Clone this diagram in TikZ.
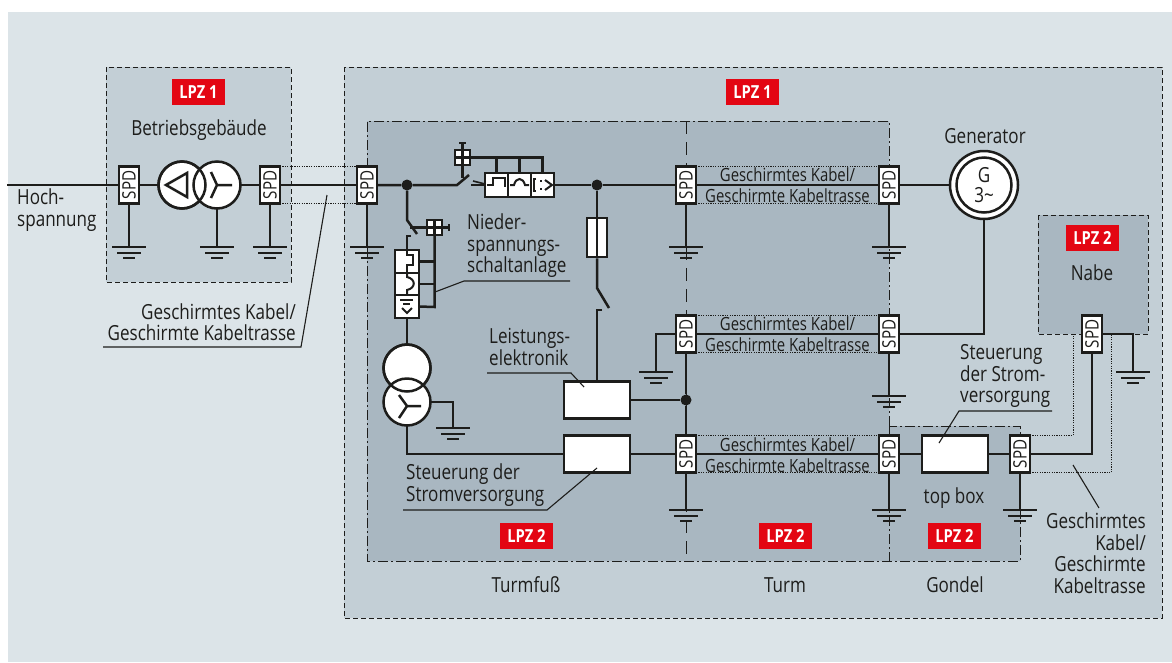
\documentclass[tikz,border=0pt]{standalone}
\usepackage{fontspec}
\setmainfont[FakeStretch=0.82]{Open Sans}
\usepackage{tikz}
\usetikzlibrary{calc, positioning}
\definecolor{panel}{HTML}{DCE4E8}
\definecolor{zoneone}{HTML}{C3CFD6}
\definecolor{zonetwo}{HTML}{A9B7C1}
\definecolor{ink}{HTML}{1D1D1B}
\definecolor{lpzred}{HTML}{E30613}
\tikzset{
  wire/.style={draw=ink, line width=2.5pt},
  thinwire/.style={draw=ink, line width=1.1pt},
  shield/.style={draw=ink, line width=1pt, dash pattern=on 1.2pt off 1.2pt},
  zoneedge/.style={draw=ink, line width=0.9pt, dash pattern=on 5pt off 3pt},
  dashdotedge/.style={draw=ink, line width=0.9pt, dash pattern=on 10pt off 3pt on 2pt off 3pt},
  spdbox/.style={draw=ink, fill=white, line width=2.5pt, rotate=90, inner sep=0pt, outer sep=0pt,
    minimum width=37pt, minimum height=20pt, font=\fontsize{18.5}{18.5}\selectfont, text=ink},
  lpzbox/.style={fill=lpzred, text=white, inner sep=0pt, minimum width=53pt, minimum height=26pt,
    font=\fontsize{18}{18}\selectfont\bfseries},
  whitebox/.style={draw=ink, fill=white, line width=2.5pt, inner sep=0pt, outer sep=0pt,
    minimum width=66pt, minimum height=37pt},
  relaybox/.style={draw=ink, fill=white, line width=2.5pt, inner sep=0pt, outer sep=0pt,
    minimum width=23pt, minimum height=24pt},
  ctrlbox/.style={draw=ink, fill=white, line width=2.5pt, inner sep=0pt, outer sep=0pt, minimum size=15pt},
  coil/.style={circle, draw=ink, fill=white, line width=2.5pt, inner sep=0pt, outer sep=0pt, minimum size=47pt},
  junction/.style={circle, fill=ink, inner sep=0pt, minimum size=11pt},
  txt/.style={text=ink, inner sep=0pt, font=\fontsize{20.8}{21.5}\selectfont},
  cabletxt/.style={text=ink, inner sep=0pt, font=\fontsize{18.2}{21}\selectfont},
  gnd/.pic={
    \draw[wire] (-17,0) -- (17,0);
    \draw[wire] (-12,6) -- (12,6);
    \draw[wire] (-6,11) -- (6,11);
  }
}
\begin{document}
\begin{tikzpicture}[x=1pt, y=-1pt]
  \useasboundingbox (0,0) rectangle (1172,662);
  % Zones
  \fill[panel] (8,12) rectangle (1172,662);
  \draw[zoneedge, fill=zoneone] (106,67) rectangle (291,282);
  \draw[zoneedge, fill=zoneone] (344,67) rectangle (1162,618);
  \fill[zonetwo] (367,121) -- (889,121) -- (889,426) -- (1020,426) -- (1020,561) -- (367,561) -- cycle;
  \draw[dashdotedge] (889,426) -- (889,121) -- (367,121) -- (367,561) -- (1020,561) -- (1020,426) -- cycle;
  \draw[dashdotedge] (889,426) -- (889,561);
  \draw[draw=ink, line width=0.9pt, dash pattern=on 13pt off 8pt] (686,121) -- (686,561);
  \draw[zoneedge, fill=zonetwo] (1038,215) rectangle (1148,334);
  % LPZ tags
  \node[lpzbox] (lpza) at (198.5,92) {LPZ 1};
  \node[lpzbox] (lpzb) at (752.5,92) {LPZ 1};
  \node[lpzbox] (lpzc) at (526.5,536) {LPZ 2};
  \node[lpzbox] (lpzd) at (785.5,536) {LPZ 2};
  \node[lpzbox] (lpze) at (954.5,536) {LPZ 2};
  \node[lpzbox] (lpzf) at (1092.5,237.5) {LPZ 2};
  % Surge protection
  \node[spdbox] (spda) at (129,185) {SPD};
  \node[spdbox] (spdb) at (270,185) {SPD};
  \node[spdbox] (spdc) at (367,185) {SPD};
  \node[spdbox] (spdd) at (686,185) {SPD};
  \node[spdbox] (spde) at (889,185) {SPD};
  \node[spdbox] (spdf) at (686,334) {SPD};
  \node[spdbox] (spdg) at (889,334) {SPD};
  \node[spdbox] (spdh) at (686,454) {SPD};
  \node[spdbox] (spdi) at (889,454) {SPD};
  \node[spdbox] (spdj) at (1020,454) {SPD};
  \node[spdbox] (spdk) at (1092,334) {SPD};
  % Transformers
  \node[coil] (traa) at (182,185) {};
  \node[coil] (trab) at (217,185) {};
  \draw[wire] (traa.center) circle[radius=23.5pt];
  \node[coil] (trac) at (407,368) {};
  \node[coil] (trad) at (407,402) {};
  \draw[wire] (trac.center) circle[radius=23.5pt];
  \draw[wire, line join=miter] (187,173) -- (166,185) -- (187,197) -- cycle;
  \draw[wire] (232,185) -- (217,185) (211,172) -- (217,185) -- (211,198);
  \draw[wire] (421,406) -- (407,406) (399,395) -- (407,406) -- (399,418);
  % Generator
  \node[coil, minimum size=68pt] (gen) at (984,185) {};
  \node[coil, minimum size=55pt, txt, align=center] (geninner) at (984,185) {G\\[-1pt]3\textasciitilde};
  % Boxes
  \node[whitebox] (power) at (597,400) {};
  \node[whitebox] (ctrla) at (597,454) {};
  \node[whitebox] (ctrlb) at (955,454) {};
  \node[relaybox] (rowa) at (496.5,185) {};
  \node[relaybox] (rowb) at (519.5,185) {};
  \node[relaybox] (rowc) at (542.5,185) {};
  \node[relaybox, minimum width=24pt, minimum height=23pt] (cola) at (407,261.5) {};
  \node[relaybox, minimum width=24pt, minimum height=22pt] (colb) at (407,284) {};
  \node[relaybox, minimum width=24pt, minimum height=23pt] (colc) at (407,306.5) {};
  \node[draw=ink, fill=white, line width=2.5pt, inner sep=0pt, minimum width=20pt, minimum height=39pt] (fuse) at (597,237.5) {};
  \node[ctrlbox] (trip) at (462.5,157.5) {};
  \node[ctrlbox] (tripb) at (434.5,227.5) {};
  \draw[wire] (trip.north) -- (trip.south) (trip.west) -- (trip.east);
  \draw[wire] (tripb.north) -- (tripb.south) (tripb.west) -- (tripb.east);
  \draw[wire] (fuse.north) -- (fuse.south);
  % Relay glyphs
  \draw[wire, line width=2pt] (487,185) -- (493,185) -- (493,178) -- (505,178) -- (505,187);
  \draw[wire, line width=2pt] (510,185) -- (514,185) .. controls (516,177) and (523,177) .. (525,185) -- (529,185);
  \draw[wire, line width=2pt] (536,179) -- (534,179) -- (534,191) -- (536,191);
  \draw[wire, line width=2pt] (541,180) -- (541,182) (541,188) -- (541,190);
  \draw[wire, line width=2pt] (545,180) -- (552,185) -- (545,190);
  \draw[wire, line width=2pt] (407,251) -- (407,255) -- (413,255) -- (413,265) -- (407,265) -- (407,272);
  \draw[wire, line width=2pt] (407,274) -- (407,277) .. controls (416,279) and (416,288) .. (407,290) -- (407,294);
  \draw[wire, line width=2pt] (400,299.5) -- (413,299.5) (403,303.5) -- (410,303.5);
  \draw[wire, line width=2pt] (402,308) -- (407,313) -- (412,308);
  % Junctions
  \node[junction] (joina) at (407,185) {};
  \node[junction] (joinb) at (597,185) {};
  \node[junction] (joinc) at (686,400) {};
  % Earth points
  \coordinate (gnda) at (129,247);
  \coordinate (gndb) at (217,247);
  \coordinate (gndc) at (270,247);
  \coordinate (gndd) at (367,247);
  \coordinate (gnde) at (686,247);
  \coordinate (gndf) at (889,247);
  \coordinate (gndg) at (656,372);
  \coordinate (gndh) at (889,396);
  \coordinate (gndi) at (453,428);
  \coordinate (gndj) at (686,510);
  \coordinate (gndk) at (889,510);
  \coordinate (gndl) at (1020,510);
  \coordinate (gndm) at (1133,372);
  \foreach \g in {gnda,gndb,gndc,gndd,gnde,gndf,gndg,gndh,gndi,gndj,gndk,gndl,gndm}
    \pic at (\g) {gnd};
  \foreach \s/\g in {spda/gnda,spdb/gndc,spdc/gndd,spdd/gnde,spde/gndf,spdg/gndh,spdh/gndj,spdi/gndk,spdj/gndl}
    \draw[wire] (\s.west) -- (\g);
  \draw[wire] (trab.south) -- (gndb);
  \draw[wire] (spdf.north) -| (gndg);
  \draw[wire] (spdk.south) -| (gndm);
  \draw[wire] (trad.east) -| (gndi);
  % Main wiring
  \coordinate (hvin) at (7,185);
  \coordinate (swa) at (457,185);
  \coordinate (swatip) at (469,175);
  \coordinate (swb) at (471,185);
  \coordinate (swc) at (407,220);
  \coordinate (swctip) at (417,234);
  \coordinate (swd) at (407,236);
  \coordinate (swe) at (597,288);
  \coordinate (swetip) at (609,308);
  \coordinate (swf) at (597,310);
  \draw[wire] (hvin) -- (spda.north);
  \draw[wire] (spda.south) -- (traa.west);
  \draw[wire] (trab.east) -- (spdb.north);
  \draw[wire] (spdb.south) -- (spdc.north);
  \draw[wire] (spdc.south) -- (joina) -- (swa) -- (swatip);
  \draw[wire] (swb) -- (rowa.west);
  \draw[wire, line width=1.6pt] (473,181) -- (485,184);
  \draw[wire] (rowc.east) -- (joinb) -- (spdd.north);
  \draw[wire] (spdd.south) -- (spde.north);
  \draw[wire] (spde.south) -- (gen.west);
  \draw[wire] (joina) -- (swc) -- (swctip);
  \draw[wire] (411,236) -- (swd) -- (cola.north);
  \draw[wire] (colc.south) -- (trac.north);
  \draw[wire] (trad.south) |- (ctrla.west);
  \draw[wire] (ctrla.east) -- (spdh.north);
  \draw[wire] (spdh.south) -- (spdi.north);
  \draw[wire] (spdi.south) -- (ctrlb.west);
  \draw[wire] (ctrlb.east) -- (spdj.north);
  \draw[wire] (spdj.south) -| (spdk.west);
  \draw[wire] (joinb) -- (fuse.north);
  \draw[wire] (fuse.south) -- (swe) -- (swetip);
  \draw[wire] (602,310) -- (swf) -- (power.north);
  \draw[wire] (power.east) -- (joinc);
  \draw[wire] (spdf.west) -- (joinc) -- (spdh.east);
  \draw[wire] (spdf.south) -- (spdg.north);
  \draw[wire] (spdg.south) -| (gen.south);
  % Trip circuits
  \draw[wire] (trip.south) -- (462.5,178);
  \draw[wire] (trip.north) -- (462.5,143);
  \draw[wire] (459,143) -- (466,143);
  \draw[wire] (trip.east) -- (542.5,157.5) -- (rowc.north);
  \draw[wire] (rowa.north) -- (496.5,157.5);
  \draw[wire] (rowb.north) -- (519.5,157.5);
  \draw[wire] (410,227.5) -- (tripb.west);
  \draw[wire] (tripb.east) -- (449,227.5);
  \draw[wire] (449,224) -- (449,231);
  \draw[wire] (tripb.south) -- (434.5,307) -- (colc.east);
  \draw[wire] (cola.east) -- (434.5,261.5);
  \draw[wire] (colb.east) -- (434.5,284);
  % Shielded runs
  \foreach \a/\b in {spdb/spdc,spdd/spde,spdf/spdg,spdh/spdi}
    \draw[shield] (\a.south east) -- (\b.north east) (\a.south west) -- (\b.north west);
  \draw[shield] (spdj.south east) -- (1073,435.5) -- (1073,334);
  \draw[shield] (spdj.south west) -- (1111.5,472.5) -- (1111.5,334);
  % Leaders
  \draw[thinwire] (327,195) -- (301,347) -- (103,347);
  \draw[thinwire] (435,292) -- (464,281) -- (570,281);
  \draw[thinwire] (487,373) -- (571,373) -- (584,387);
  \draw[thinwire] (403,510) -- (547,510) -- (597,468);
  \draw[thinwire] (1052,411) -- (959,411) -- (939,443);
  \draw[thinwire] (1073,465) -- (1099,508);
  % Labels
  \node[txt, align=left, anchor=west] (hv) at (17,210) {Hoch-\\spannung};
  \node[txt] (building) at (199,130) {Betriebsgebäude};
  \node[txt, align=right, anchor=east] (cablea) at (296,322) {Geschirmtes Kabel/\\Geschirmte Kabeltrasse};
  \node[txt, align=left, anchor=west] (lvswitch) at (467,246) {Nieder-\\spannungs-\\schaltanlage};
  \node[txt, align=left, anchor=west] (powerlabel) at (489,347) {Leistungs-\\elektronik};
  \node[txt, align=left, anchor=west] (ctrlalabel) at (406,485) {Steuerung der\\Stromversorgung};
  \node[txt, align=left, anchor=west] (ctrlblabel) at (960,376) {Steuerung\\der Strom-\\versorgung};
  \node[txt] (genlabel) at (985,136) {Generator};
  \node[txt] (hub) at (1092,273) {Nabe};
  \node[txt] (topbox) at (954,498) {top box};
  \node[txt] (base) at (526,585) {Turmfuß};
  \node[txt] (tower) at (785,585) {Turm};
  \node[txt] (nacelle) at (955,585) {Gondel};
  \node[txt, align=right, anchor=east] (cablee) at (1146,553) {Geschirmtes\\Kabel/\\Geschirmte\\Kabeltrasse};
  \foreach \n/\y in {cableb/185,cablec/334.5,cabled/455}
    \node[cabletxt, align=center] (\n) at (787.5,\y) {Geschirmtes Kabel/\\Geschirmte Kabeltrasse};
\end{tikzpicture}
\end{document}
